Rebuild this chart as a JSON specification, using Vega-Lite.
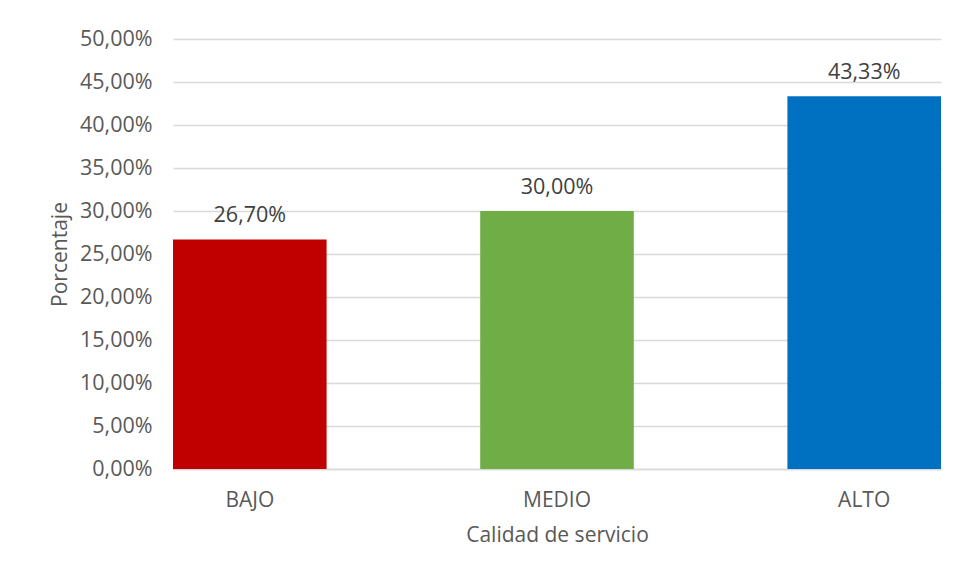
{
  "$schema": "https://vega.github.io/schema/vega-lite/v6.json",
  "autosize": "none",
  "width": 768,
  "height": 430,
  "padding": {"left": 173, "top": 39, "right": 17, "bottom": 112},
  "background": "white",
  "config": {
    "view": {"stroke": null},
    "font": "Open Sans",
    "locale": {
      "number": {"decimal": ",", "thousands": ".", "grouping": [3], "currency": ["", " €"]}
    }
  },
  "data": {
    "values": [
      {"calidad": "BAJO", "porcentaje": 0.267, "color": "#C00000"},
      {"calidad": "MEDIO", "porcentaje": 0.30, "color": "#70AD47"},
      {"calidad": "ALTO", "porcentaje": 0.4333, "color": "#0070C0"}
    ]
  },
  "encoding": {
    "x": {
      "field": "calidad",
      "type": "nominal",
      "sort": null,
      "scale": {"paddingInner": 0.5, "paddingOuter": 0},
      "axis": {
        "title": "Calidad de servicio",
        "titleFont": "Open Sans",
        "titleFontSize": 21,
        "titleFontWeight": "normal",
        "titleColor": "#595959",
        "titlePadding": 14,
        "labelAngle": 0,
        "labelFont": "Open Sans",
        "labelFontSize": 21,
        "labelColor": "#595959",
        "labelPadding": 20,
        "ticks": false,
        "domainColor": "#d9d9d9",
        "domainWidth": 1.5
      }
    },
    "y": {
      "field": "porcentaje",
      "type": "quantitative",
      "scale": {"domain": [0, 0.5], "nice": false},
      "axis": {
        "title": "Porcentaje",
        "titleFont": "Open Sans",
        "titleFontSize": 21,
        "titleFontWeight": "normal",
        "titleColor": "#595959",
        "titlePadding": 9,
        "values": [0, 0.05, 0.1, 0.15, 0.2, 0.25, 0.3, 0.35, 0.4, 0.45, 0.5],
        "format": ".2%",
        "labelFont": "Open Sans",
        "labelFontSize": 21.5,
        "labelColor": "#595959",
        "labelPadding": 21,
        "ticks": false,
        "domain": false,
        "gridColor": "#d9d9d9",
        "gridWidth": 1.5
      }
    }
  },
  "layer": [
    {
      "mark": {"type": "bar"},
      "encoding": {
        "color": {"field": "color", "type": "nominal", "scale": null}
      }
    },
    {
      "mark": {"type": "text", "baseline": "alphabetic", "dy": -17, "fontSize": 21.5, "color": "#404040", "font": "Open Sans"},
      "encoding": {
        "text": {"field": "porcentaje", "type": "quantitative", "format": ".2%"}
      }
    }
  ]
}
